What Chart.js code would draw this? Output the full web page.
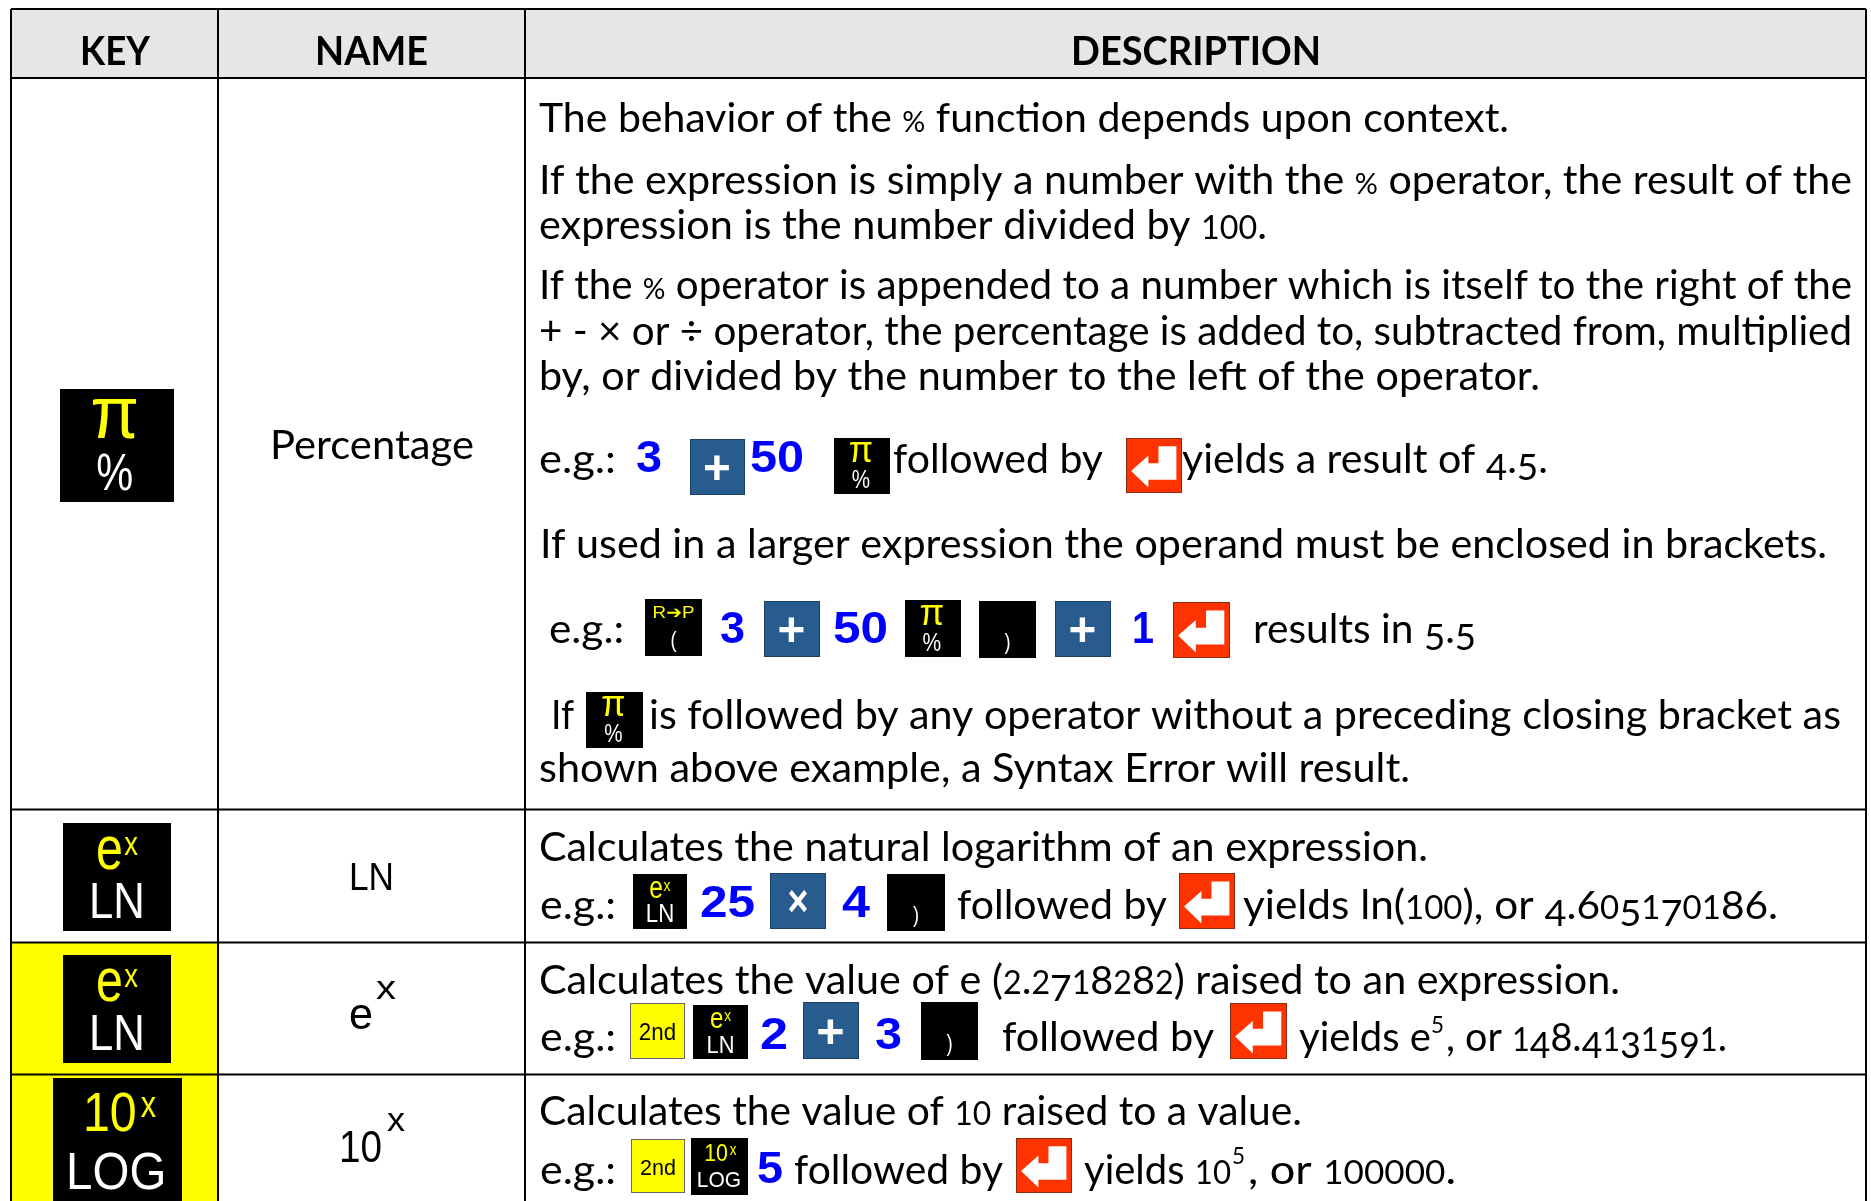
<!DOCTYPE html>
<html>
<head>
<meta charset="utf-8">
<title>Key table</title>
<style>
    html, body { margin: 0; padding: 0; background: #fff; }
    canvas { display: block; }
</style>
<script src="https://cdn.jsdelivr.net/npm/chart.js@4"></script>
</head>
<body>
<canvas id="table" width="1871" height="1201"></canvas>
<script>
// table content
const headers = ["KEY", "NAME", "DESCRIPTION"]
const headerSpans = [[80, 150], [315, 428], [1071, 1321]]

const columnEdges = [11, 218, 525, 1866]
const rowEdges = [9, 78, 809.5, 942.5, 1074.5]

const proseLines = [
    "The behavior of the % function depends upon context.",
    "If the expression is simply a number with the % operator, the result of the",
    "expression is the number divided by 100.",
    "If the % operator is appended to a number which is itself to the right of the",
    "+ - × or ÷ operator, the percentage is added to, subtracted from, multiplied",
    "by, or divided by the number to the left of the operator.",
    "e.g.:",
    "followed by",
    "yields a result of 4.5.",
    "If used in a larger expression the operand must be enclosed in brackets.",
    "e.g.:",
    "results in 5.5",
    "If",
    "is followed by any operator without a preceding closing bracket as",
    "shown above example, a Syntax Error will result.",
    "Calculates the natural logarithm of an expression.",
    "e.g.:",
    "followed by",
    "yields ln(100), or 4.605170186.",
    "Calculates the value of e (2.2718282) raised to an expression.",
    "e.g.:",
    "followed by",
    "yields e",
    ", or 148.4131591.",
    "Calculates the value of 10 raised to a value.",
    "e.g.:",
    "followed by",
    "yields 10",
    ", or 100000.",
]
const proseSpans = [
    [539, 1509], [539, 1852], [539, 1267], [539, 1852], [539, 1852], [539, 1540],
    [539, 616], [893, 1103], [1182, 1548], [540, 1827], [549, 624], [1253, 1476],
    [551, 574], [649, 1841], [539, 1410], [539, 1428], [540, 616], [957, 1167],
    [1243, 1778], [539, 1620], [540, 616], [1002, 1214], [1299, 1431], [1446, 1727],
    [539, 1302], [540, 616], [794, 1003], [1084, 1231], [1248, 1456],
]
const proseBaselines = [
    132, 194, 239, 299, 345, 390, 473, 473, 473, 558, 643, 643, 729, 729, 782,
    861, 919, 919, 919, 994, 1051, 1051, 1051, 1051, 1125, 1184, 1184, 1184, 1184,
]

const exponents = ["5", "5"]
const exponentSpans = [[1431, 1444], [1232, 1245]]
const exponentBaselines = [1033, 1164]

const operands = ["3", "50", "3", "50", "1", "25", "4", "2", "3", "5"]
const operandSpans = [
    [636, 662], [750, 804], [720, 745], [833, 888], [1132, 1154],
    [700, 755], [842, 870], [760, 788], [875, 902], [757, 783],
]
const operandBaselines = [472, 472, 643, 643, 643, 917, 917, 1049, 1049, 1183]

const keyNames = ["Percentage", "LN", "e", "x", "10", "x"]
const keyNameSpans = [[270, 474], [349, 394], [349, 373], [376, 396], [339, 382], [387, 405]]
const keyNameBaselines = [459, 890, 1029, 999, 1162, 1131]
const keyNameSizes = [41, 38, 44, 33, 44, 33]

// [kind, left, top, right, bottom]
const keyCaps = [
    ["pi", 60, 389, 174, 502],
    ["ex", 63, 823, 171, 931],
    ["ex", 63, 955, 171, 1063],
    ["tenx", 53, 1078, 182, 1207],
    ["plus", 690, 439, 745, 495],
    ["pi", 834, 438, 890, 494],
    ["enter", 1126, 438, 1182, 493],
    ["rp", 645, 599, 702, 656],
    ["plus", 764, 601, 820, 657],
    ["pi", 905, 600, 961, 657],
    ["close", 979, 601, 1036, 658],
    ["plus", 1055, 601, 1111, 657],
    ["enter", 1173, 602, 1230, 658],
    ["pi", 586, 692, 643, 748],
    ["ex", 633, 874, 687, 929],
    ["times", 770, 873, 826, 929],
    ["close", 887, 874, 945, 931],
    ["enter", 1179, 873, 1235, 929],
    ["second", 630, 1003, 685, 1059],
    ["ex", 693, 1005, 748, 1059],
    ["plus", 803, 1002, 859, 1059],
    ["close", 921, 1002, 978, 1060],
    ["enter", 1230, 1003, 1287, 1059],
    ["second", 631, 1139, 685, 1193],
    ["tenx", 691, 1138, 748, 1195],
    ["enter", 1016, 1138, 1072, 1193],
]

// legend printed on each kind of key: text, colour, x centre, baseline, size, x stretch (fractions of the key)
const keyFaces = {
    pi: { fill: "#000", glyphs: [["π", "#ffff00", 0.48, 0.43, 0.66, 0.95], ["%", "#fff", 0.48, 0.89, 0.46, 0.8]] },
    ex: { fill: "#000", glyphs: [["e", "#ffff00", 0.43, 0.43, 0.56, 0.8], ["x", "#ffff00", 0.63, 0.3, 0.3, 0.85], ["LN", "#fff", 0.5, 0.88, 0.46, 0.88]] },
    tenx: { fill: "#000", glyphs: [["10", "#ffff00", 0.44, 0.41, 0.43, 0.87], ["x", "#ffff00", 0.74, 0.3, 0.28, 0.85], ["LOG", "#fff", 0.49, 0.86, 0.4, 0.92]] },
    rp: { fill: "#000", glyphs: [["R➔P", "#ffff00", 0.5, 0.34, 0.3, 1.1], ["(", "#fff", 0.5, 0.85, 0.4, 0.8]] },
    close: { fill: "#000", glyphs: [[")", "#fff", 0.5, 0.85, 0.4, 0.8]] },
    plus: { fill: "#285c8e", border: "#1d3f60", bold: true, glyphs: [["+", "#fff", 0.49, 0.8, 0.85, 1]] },
    times: { fill: "#285c8e", border: "#1d3f60", bold: true, glyphs: [["×", "#fff", 0.5, 0.76, 0.8, 0.8]] },
    second: { fill: "#ffff00", border: "#666", glyphs: [["2nd", "#000", 0.5, 0.66, 0.42, 0.95]] },
    enter: { fill: "#ff3300", border: "#8a2a10", glyphs: [] },
}
const enterArrow = [
    [0.58, 0.15], [0.9, 0.15], [0.9, 0.76], [0.4, 0.76], [0.4, 0.9],
    [0.09, 0.6], [0.4, 0.32], [0.4, 0.46], [0.58, 0.46],
]

const BODY_FONT = "Lato"
const BODY_SIZE = 41
const KEY_FONT = "'Liberation Sans'"

// Candara prints old-style figures and a small %, Lato has neither
function glyphTweak(ch) {
    if ("012".includes(ch)) return { scale: 0.78, drop: 0 }
    if ("34579".includes(ch)) return { scale: 0.9, drop: 0.17 }
    if ("68".includes(ch)) return { scale: 0.96, drop: 0 }
    if (ch === "%") return { scale: 0.7, drop: 0 }
    return null
}

function drawProse(ctx, text, x0, x1, baseline) {
    ctx.font = `${BODY_SIZE}px ${BODY_FONT}`
    ctx.fillStyle = "#000"
    ctx.textAlign = "left"
    const pieces = text.split(/([0-9%])/).filter((p) => p.length)
    const widths = pieces.map((p) => {
        const t = p.length === 1 ? glyphTweak(p) : null
        return ctx.measureText(p).width * (t ? t.scale : 1)
    })
    const stretch = (x1 - x0) / widths.reduce((a, b) => a + b, 0)
    let pen = 0
    pieces.forEach((p, i) => {
        const t = p.length === 1 ? glyphTweak(p) : null
        ctx.save()
        ctx.translate(x0 + pen * stretch, baseline + (t ? t.drop * BODY_SIZE : 0))
        ctx.scale(stretch * (t ? t.scale : 1), t ? t.scale : 1)
        ctx.fillText(p, 0, 0)
        ctx.restore()
        pen += widths[i]
    })
}

function drawFitted(ctx, text, x0, x1, baseline, font, color) {
    ctx.font = font
    ctx.fillStyle = color
    ctx.textAlign = "left"
    ctx.save()
    ctx.translate(x0, baseline)
    ctx.scale((x1 - x0) / ctx.measureText(text).width, 1)
    ctx.fillText(text, 0, 0)
    ctx.restore()
}

function drawKeyCap(ctx, kind, x, y, w, h) {
    const face = keyFaces[kind]
    ctx.fillStyle = face.fill
    ctx.fillRect(x, y, w, h)
    if (face.border) {
        ctx.strokeStyle = face.border
        ctx.lineWidth = 1
        ctx.strokeRect(x + 0.5, y + 0.5, w - 1, h - 1)
    }
    face.glyphs.forEach(([text, color, fx, fy, size, stretch]) => {
        ctx.save()
        ctx.font = `${face.bold ? "bold " : ""}${size * h}px ${KEY_FONT}, 'DejaVu Sans'`
        ctx.fillStyle = color
        ctx.textAlign = "center"
        ctx.translate(x + fx * w, y + fy * h)
        ctx.scale(stretch, 1)
        ctx.fillText(text, 0, 0)
        ctx.restore()
    })
    if (kind === "enter") {
        ctx.fillStyle = "#fff"
        ctx.beginPath()
        enterArrow.forEach(([fx, fy], i) => {
            if (i === 0) ctx.moveTo(x + fx * w, y + fy * h)
            else ctx.lineTo(x + fx * w, y + fy * h)
        })
        ctx.closePath()
        ctx.fill()
    }
}

// cell shading goes under the rules
const shadingPlugin = {
    id: "shading",
    beforeDatasetsDraw(chart) {
        const { ctx, scales: { x, y } } = chart
        const shade = (x0, y0, x1, y1, color) => {
            ctx.fillStyle = color
            ctx.fillRect(x.getPixelForValue(x0), y.getPixelForValue(y0),
                x.getPixelForValue(x1) - x.getPixelForValue(x0), y.getPixelForValue(y1) - y.getPixelForValue(y0))
        }
        shade(columnEdges[0], rowEdges[0], columnEdges[3], rowEdges[1], "#e6e6e6")
        shade(columnEdges[0], rowEdges[3], columnEdges[1], 1201, "#ffff00")
    },
}

const contentPlugin = {
    id: "content",
    afterDatasetsDraw(chart) {
        const { ctx, scales: { x, y } } = chart
        const px = (v) => x.getPixelForValue(v)
        const py = (v) => y.getPixelForValue(v)
        ctx.textBaseline = "alphabetic"

        headers.forEach((h, i) => {
            drawFitted(ctx, h, px(headerSpans[i][0]), px(headerSpans[i][1]), py(65), `bold 40px ${BODY_FONT}`, "#000")
        })
        keyNames.forEach((n, i) => {
            const family = i === 0 ? BODY_FONT : KEY_FONT
            drawFitted(ctx, n, px(keyNameSpans[i][0]), px(keyNameSpans[i][1]), py(keyNameBaselines[i]), `${keyNameSizes[i]}px ${family}`, "#000")
        })
        proseLines.forEach((line, i) => {
            drawProse(ctx, line, px(proseSpans[i][0]), px(proseSpans[i][1]), py(proseBaselines[i]))
        })
        exponents.forEach((e, i) => {
            drawFitted(ctx, e, px(exponentSpans[i][0]), px(exponentSpans[i][1]), py(exponentBaselines[i]), `24px ${BODY_FONT}`, "#000")
        })
        operands.forEach((o, i) => {
            drawFitted(ctx, o, px(operandSpans[i][0]), px(operandSpans[i][1]), py(operandBaselines[i]), `bold 45px ${KEY_FONT}`, "#0000ff")
        })
        keyCaps.forEach(([kind, l, t, r, b]) => {
            drawKeyCap(ctx, kind, px(l), py(t), px(r) - px(l), py(b) - py(t))
        })
    },
}

// table rules are plain two point line datasets
const ruleStyle = { type: "line", borderColor: "#000", borderWidth: 2, pointRadius: 0, tension: 0 }
const rowRules = rowEdges.map((edge) => ({
    ...ruleStyle,
    data: [{ x: columnEdges[0], y: edge }, { x: columnEdges[3], y: edge }],
}))
const columnRules = columnEdges.map((edge) => ({
    ...ruleStyle,
    data: [{ x: edge, y: rowEdges[0] }, { x: edge, y: 1201 }],
}))

new Chart(document.getElementById("table"), {
    type: "line",
    data: { datasets: [...rowRules, ...columnRules] },
    options: {
        responsive: false,
        animation: false,
        layout: { padding: 0 },
        plugins: { legend: { display: false }, tooltip: { enabled: false } },
        scales: {
            x: { type: "linear", min: 0, max: 1871, display: false },
            y: { type: "linear", min: 0, max: 1201, reverse: true, display: false },
        },
    },
    plugins: [shadingPlugin, contentPlugin],
})
</script>
</body>
</html>
